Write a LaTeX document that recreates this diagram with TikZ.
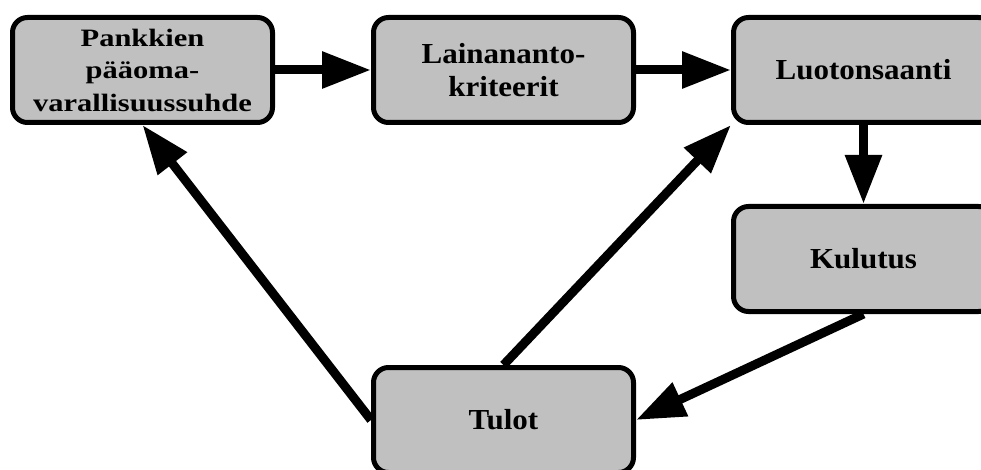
\documentclass[tikz,border=0pt]{standalone}
\usepackage{fontspec}
\setmainfont{Liberation Serif}
\newfontfamily\boxfont[FakeStretch=1.07]{Liberation Serif}
\newfontfamily\boxfontwide[FakeStretch=1.22]{Liberation Serif}
\usetikzlibrary{arrows.meta}

\definecolor{boxgray}{RGB}{192,192,192}

\tikzset{
  flowbox/.style={
    draw=black, fill=boxgray, line width=5pt, rounded corners=15pt,
    minimum width=260pt, minimum height=105pt, inner sep=0pt,
    align=center, font=\boxfont\fontsize{29}{33}\selectfont\bfseries
  },
  smalltext/.style={font=\boxfontwide\fontsize{25}{32.5}\selectfont\bfseries},
  flowarrow/.style={
    line width=9pt, -{Triangle[length=49pt,width=35pt]}
  }
}

\begin{document}
\begin{tikzpicture}[x=1pt,y=-1pt]
  \clip (0,0) rectangle (981,470);

  % boxes
  \node[flowbox, smalltext] (pank) at (142.5,70) {Pankkien\\pääoma-\\varallisuussuhde};
  \node[flowbox] (laina) at (503.5,70) {Lainananto-\\kriteerit};
  \node[flowbox] (luoto) at (863.5,70) {Luotonsaanti};
  \node[flowbox] (kulu)  at (863.5,259) {Kulutus};
  \node[flowbox] (tulot) at (503.5,420) {Tulot};

  % connectors
  \draw[flowarrow] (pank.east) -- (laina.west);
  \draw[flowarrow] (laina.east) -- (luoto.west);
  \draw[flowarrow] (luoto.south) -- (kulu.north);
  \draw[flowarrow] (kulu.south) -- (tulot.east);
  \draw[flowarrow] (tulot.north) -- (luoto.south west);
  \draw[flowarrow] (tulot.west) -- (pank.south);
\end{tikzpicture}
\end{document}
